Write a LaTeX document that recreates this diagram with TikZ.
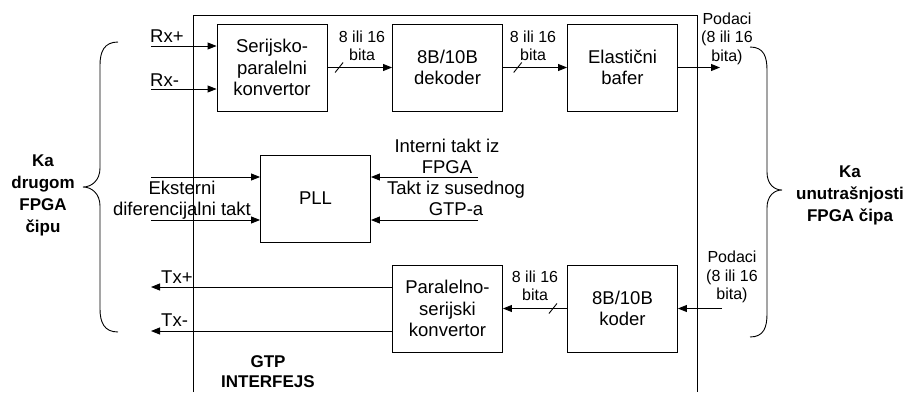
\documentclass[tikz,border=0pt]{standalone}
\usepackage{fontspec}
\setmainfont{Liberation Sans}
\usetikzlibrary{arrows.meta,calc}
\begin{document}
\begin{tikzpicture}[x=1bp,y=-1bp,
  lw/.style={line width=0.9bp},
  box/.style={draw,lw,minimum width=110bp,minimum height=87bp,inner sep=0pt,align=center,font=\fontsize{18.5bp}{21.5bp}\selectfont},
  lbl/.style={inner sep=0pt,align=center,font=\fontsize{18.5bp}{21bp}\selectfont},
  sml/.style={inner sep=0pt,align=center,font=\fontsize{16bp}{18.5bp}\selectfont},
  bld/.style={inner sep=0pt,align=center,font=\fontsize{17bp}{22bp}\selectfont\bfseries},
  arr/.style={lw,-{Triangle[length=9bp,width=7bp]}},
  slash/.style={lw}
  ]
\useasboundingbox (0,0) rectangle (907,392);
% frame
\draw[lw] (193,392) -- (193,15) -- (697,15) -- (697,392);
% boxes
\node[box] (ser) at (272,67.5) {Serijsko-\\paralelni\\konvertor};
\node[box] (dek) at (447.5,67.5) {8B/10B\\dekoder};
\node[box] (ela) at (622.5,67.5) {Elastični\\bafer};
\node[box] (pll) at (315.5,198.5) {PLL};
\node[box] (par) at (447.5,308.5) {Paralelno-\\serijski\\konvertor};
\node[box] (kod) at (622.5,308.5) {8B/10B\\koder};
% Rx inputs
\coordinate (rxp) at (151,46);
\coordinate (rxm) at (151,89);
\draw[arr] (rxp) -- (rxp -| ser.west);
\draw[arr] (rxm) -- (rxm -| ser.west);
\node[lbl,anchor=west] (rxpl) at (150,36) {Rx+};
\node[lbl,anchor=west] (rxml) at (150,80) {Rx-};
% data path top
\draw[arr] (ser.east) -- (dek.west);
\draw[arr] (dek.east) -- (ela.west);
\path (ser.east) -- coordinate[pos=0.18] (s1) (dek.west);
\path (dek.east) -- coordinate[pos=0.23] (s2) (ela.west);
\draw[slash] ($(s1)+(-4,5)$) -- ($(s1)+(4,-5)$);
\draw[slash] ($(s2)+(-4,5)$) -- ($(s2)+(4,-5)$);
\node[sml] (b1) at (362,46) {8 ili 16\\bita};
\node[sml] (b2) at (533,46) {8 ili 16\\bita};
\coordinate (out) at (720,67.5);
\draw[arr] (ela.east) -- (out);
\node[sml] (pod1) at (727,38.5) {Podaci\\(8 ili 16\\bita)};
% PLL
\coordinate (ek) at (151,177);
\coordinate (df) at (151,220);
\draw[arr] (ek) -- (ek -| pll.west);
\draw[arr] (df) -- (df -| pll.west);
\node[lbl] (ekl) at (182,200) {Eksterni\\diferencijalni takt};
\coordinate (it) at (478,177);
\coordinate (gt) at (478,220);
\draw[arr] (it) -- (it -| pll.east);
\draw[arr] (gt) -- (gt -| pll.east);
\node[lbl] (itl) at (447,156) {Interni takt iz\\FPGA};
\node[lbl] (gtl) at (456,198.5) {Takt iz susednog\\GTP-a};
% bottom path
\coordinate (in) at (722,308.5);
\draw[arr] (in) -- (kod.east);
\node[sml] (pod2) at (732,277) {Podaci\\(8 ili 16\\bita)};
\draw[arr] (kod.west) -- (par.east);
\path (kod.west) -- coordinate[pos=0.22] (s3) (par.east);
\draw[slash] ($(s3)+(-4,5)$) -- ($(s3)+(4,-5)$);
\node[sml] (b3) at (535,286) {8 ili 16\\bita};
\coordinate (txp) at (151,287);
\coordinate (txm) at (151,331);
\draw[arr] (txp -| par.west) -- (txp);
\draw[arr] (txm -| par.west) -- (txm);
\node[lbl,anchor=west] (txpl) at (161,277) {Tx+};
\node[lbl,anchor=west] (txml) at (161,320) {Tx-};
% braces
\draw[lw] (118,42) .. controls (104,42) and (100,52) .. (100,65) -- (100,168) .. controls (100,180) and (92,187) .. (83,187) .. controls (92,187) and (100,194) .. (100,206) -- (100,309) .. controls (100,322) and (104,332) .. (118,332);
\draw[lw] (750,47) .. controls (764,47) and (767,57) .. (767,70) -- (767,172) .. controls (767,184) and (774,190) .. (782,190) .. controls (774,190) and (767,196) .. (767,208) -- (767,314) .. controls (767,327) and (764,337) .. (750,337);
% bold labels
\node[bld] (kal) at (43,195) {Ka\\drugom\\FPGA\\čipu};
\node[bld] (kar) at (850,195) {Ka\\unutrašnjosti\\FPGA čipa};
\node[bld,font=\fontsize{17bp}{20bp}\selectfont\bfseries] (gtp) at (268,372) {GTP\\INTERFEJS};
\end{tikzpicture}
\end{document}
